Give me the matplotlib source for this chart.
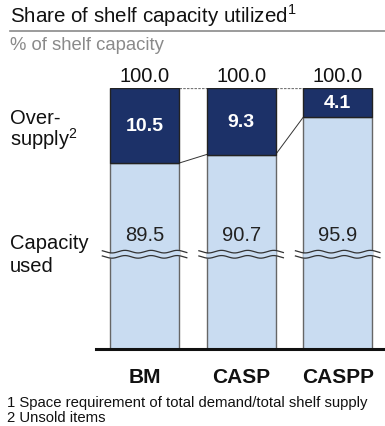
import numpy as np
import matplotlib.pyplot as plt
from matplotlib import transforms

categories = ["BM", "CASP", "CASPP"]
capacity_used = [89.5, 90.7, 95.9]
oversupply = [10.5, 9.3, 4.1]
totals = [100.0, 100.0, 100.0]

plt.rcParams['font.family'] = ['Liberation Sans', 'DejaVu Sans']

DARK = "#1c3168"
LIGHT = "#c9dcf1"
W, H = 385, 427
fig = plt.figure(figsize=(W / 100, H / 100), dpi=100)


def px_rect(x0, y0, x1, y1):
    return [x0 / W, 1 - y1 / H, (x1 - x0) / W, (y1 - y0) / H]


ax = fig.add_axes(px_rect(96, 89, 385, 350))

# broken value axis: everything below BREAK is squeezed into a short stub
BREAK = 76.5
LOW_SPAN = 13.0


def fwd(v):
    v = np.asarray(v, float)
    return np.where(v >= BREAK, v - BREAK + LOW_SPAN, v * LOW_SPAN / BREAK)


def inv(d):
    d = np.asarray(d, float)
    return np.where(d >= LOW_SPAN, d - LOW_SPAN + BREAK, d * BREAK / LOW_SPAN)


ax.set_yscale('function', functions=(fwd, inv))
ax.set_ylim(0, 100)
x = np.arange(len(categories))
width = 0.715
ax.set_xlim(-0.503, 2.49)

ax.bar(x, capacity_used, width, color=LIGHT, edgecolor="#666666", linewidth=1.0, zorder=2)
ax.bar(x, oversupply, width, bottom=capacity_used, color=DARK, edgecolor="#222222",
       linewidth=1.0, zorder=2)

# connectors between neighbouring bars
for i in range(len(x) - 1):
    xa, xb = x[i] + width / 2, x[i + 1] - width / 2
    ax.plot([xa, xb], [totals[i], totals[i + 1]], color="#777777", lw=0.9,
            ls=(0, (2, 1)), zorder=1)
    ax.plot([xa, xb], [capacity_used[i], capacity_used[i + 1]], color="#333333",
            lw=0.7, zorder=1)

# wavy break marks across each bar
bt = transforms.blended_transform_factory(ax.transData, ax.transAxes)
for xi in x:
    xs = np.linspace(xi - width / 2 - 0.08, xi + width / 2 + 0.08, 140)
    wave = 0.0050 * np.sin((xs - xi) / 0.27 * 2 * np.pi)
    y_hi, y_lo = 0.373 + wave, 0.353 + wave
    inside = np.abs(xs - xi) <= width / 2 + 0.01
    ax.fill_between(xs[inside], y_lo[inside], y_hi[inside], color=LIGHT, transform=bt,
                    zorder=3, linewidth=0)
    ax.plot(xs, y_hi, color="#333333", lw=0.9, transform=bt, zorder=4)
    ax.plot(xs, y_lo, color="#333333", lw=0.9, transform=bt, zorder=4)

# value labels
for xi, tot, cu, ov in zip(x, totals, capacity_used, oversupply):
    ax.annotate(f"{tot:.1f}", (xi, tot), xytext=(0, 5), textcoords="offset points",
                ha="center", va="baseline", fontsize=14.5, color="#111111")
    ax.text(xi, cu + ov / 2, f"{ov:.1f}", ha="center", va="center", fontsize=14,
            fontweight="bold", color="white", zorder=5)
    ax.text(xi, 0.437, f"{cu:.1f}", transform=bt, ha="center", va="center",
            fontsize=14.5, color="#222222", zorder=5)
    ax.text(xi, -0.107, categories[xi], transform=bt, ha="center", va="center",
            fontsize=15, fontweight="bold", color="#111111")

for s in ["left", "right", "top"]:
    ax.spines[s].set_visible(False)
ax.spines["bottom"].set_linewidth(2.2)
ax.spines["bottom"].set_color("#111111")
ax.set_xticks([])
ax.set_yticks([])
ax.yaxis.set_minor_locator(plt.NullLocator())

# header
fig.text(10 / W, 1 - 16 / H, r"Share of shelf capacity utilized$^{\mathregular{1}}$",
         fontsize=14.8, va="center", ha="left", color="#111111")
fig.add_artist(plt.Line2D([10 / W, 1], [1 - 32 / H] * 2, color="#8a8a8a", lw=1.2))
fig.text(10 / W, 1 - 46 / H, "% of shelf capacity", fontsize=13.3, va="center",
         ha="left", color="#8a8a8a")

# row labels
fig.text(10 / W, 1 - 118 / H, "Over-", fontsize=14.5, va="center", ha="left", color="#111111")
fig.text(10 / W, 1 - 139 / H, r"supply$^{\mathregular{2}}$", fontsize=14.5, va="center",
         ha="left", color="#111111")
fig.text(10 / W, 1 - 244 / H, "Capacity", fontsize=14.5, va="center", ha="left", color="#111111")
fig.text(10 / W, 1 - 266 / H, "used", fontsize=14.5, va="center", ha="left", color="#111111")

# footnotes
fig.text(7 / W, 1 - 403 / H, "1 Space requirement of total demand/total shelf supply",
         fontsize=10.7, va="center", ha="left", color="#111111")
fig.text(7 / W, 1 - 418 / H, "2 Unsold items", fontsize=10.7, va="center", ha="left",
         color="#111111")

fig.savefig("out.png", dpi=100)
